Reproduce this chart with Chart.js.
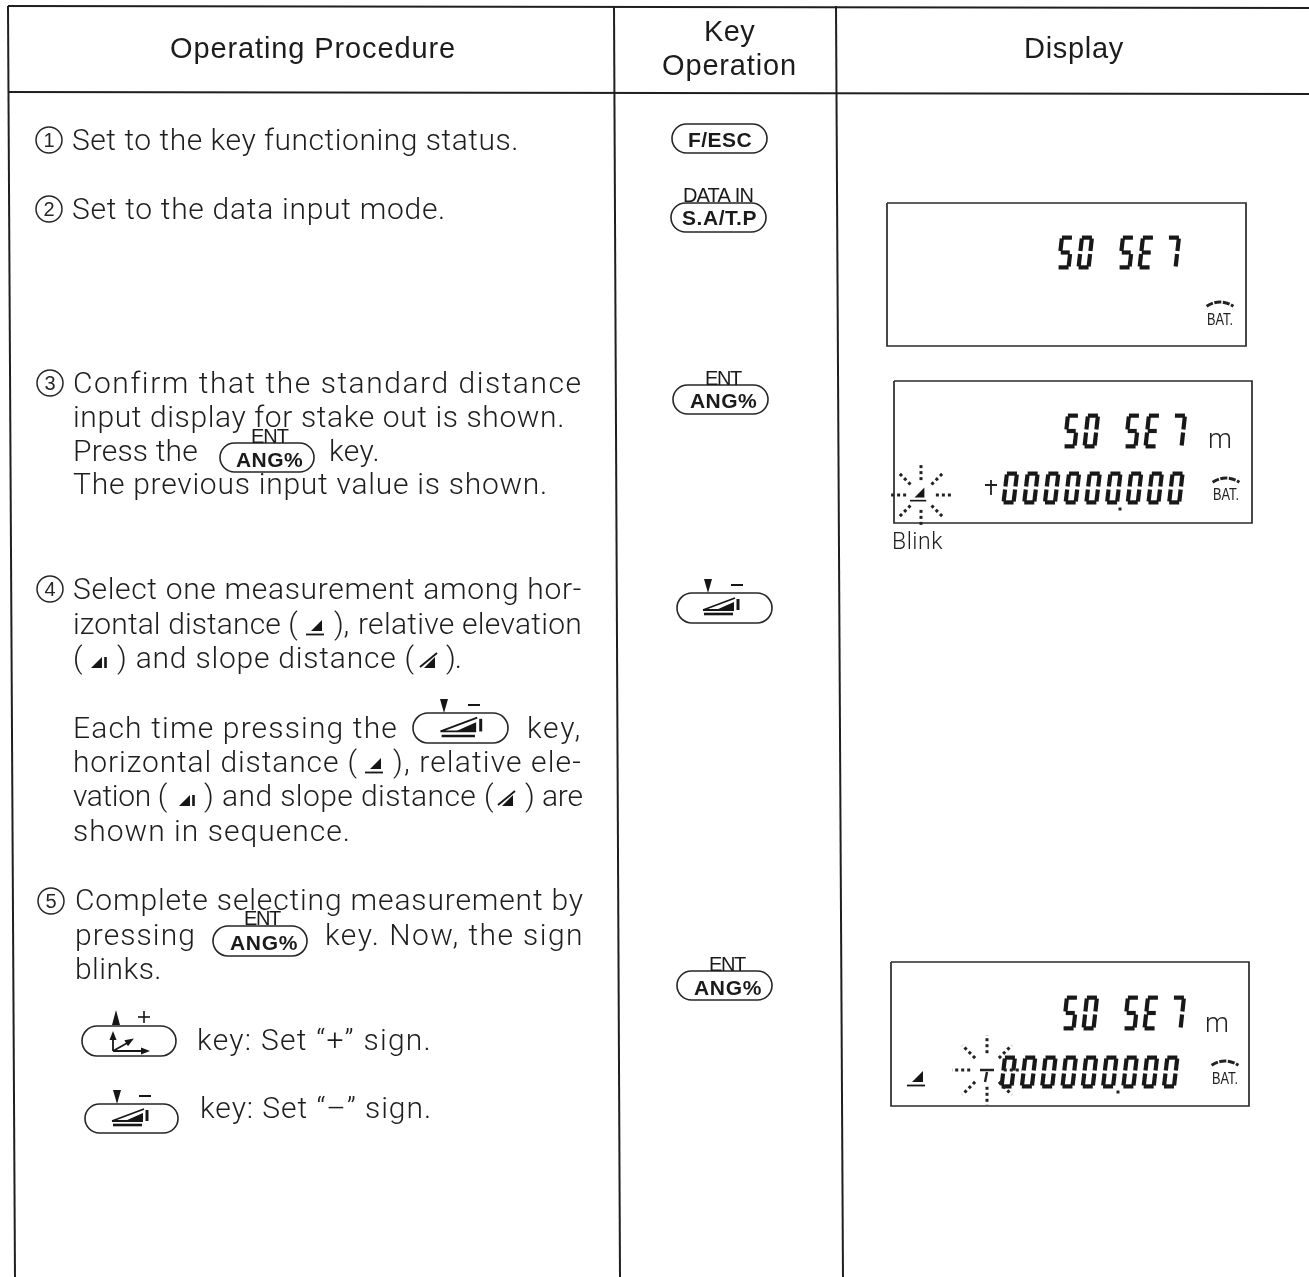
<!DOCTYPE html>
<html><head><meta charset="utf-8">
<style>html,body{margin:0;padding:0;background:#fff;overflow:hidden}#w{position:relative;width:1309px;height:1277px}</style>
<script src="https://cdn.jsdelivr.net/npm/chart.js@4"></script>
</head><body><div id="w"><canvas id="c" width="1309" height="1277"></canvas></div>
<script>
// Table rules: [x0,y0,x1,y1]
const tableRules = [[8,6,1309,8],[8,92,1309,94],[8,6,15,1277],[614,6,620,1277],[836,6,843,1277]];
const displayBoxes = [[887,203,1246,346],[894,381,1252,523],[891,962,1249,1106]];
// Body text: [text,left,right,baseline]
const bodyText = [
 ["Set to the key functioning status.",72,519,150],
 ["Set to the data input mode.",72,446,219],
 ["Confirm that the standard distance",73,582,393],
 ["input display for stake out is shown.",73,565,427],
 ["Press the",73,198,461],
 ["key.",329,380,461],
 ["The previous input value is shown.",73,548,494],
 ["Select one measurement among hor-",73,582,599],
 ["izontal distance (",73,298,634],
 ["),",334,349,634],
 ["relative elevation",358,582,634],
 ["(",73,81,668],
 [") and slope distance (",117,415,668],
 [").",446,461,668],
 ["Each time pressing the",73,398,738],
 ["key,",527,582,738],
 ["horizontal distance (",73,358,772],
 ["), relative ele-",393,582,772],
 ["vation (",73,167,806],
 [") and slope distance (",204,494,806],
 [") are",525,583,806],
 ["shown in sequence.",73,351,841],
 ["Complete selecting measurement by",75,584,910],
 ["pressing",75,196,945],
 ["key. Now, the sign",325,584,945],
 ["blinks.",75,162,979],
 ["key: Set “+” sign.",197,432,1050],
 ["key: Set “–” sign.",200,432,1118],
 ["Blink",892,943,549]
];
const headerText = [["Operating Procedure",170,456,58],["Key",704,755,41],["Operation",662,797,75],["Display",1024,1124,58]];
// Step numbers: [digit,cx,cy]
const stepNumbers = [["1",49,140],["2",49,209],["3",50,383],["4",50,589],["5",51,901]];
// Key ovals: [x0,y0,x1,y1]
const keyOvals = [[672,124,767,153],[671,203,766,232],[673,385,768,414],[220,443,314,472],[677,593,772,623],[413,713,508,743],[213,926,307,956],[677,971,772,1000],[82,1026,176,1056],[85,1104,178,1133]];
// Key labels: [text,left,right,baseline,bold]
const keyLabels = [
 ["F/ESC",688,752,147,1],["DATA IN",683,753,202,0],["S.A/T.P",682,757,225,1],
 ["ENT",705,741,385,0],["ANG%",690,757,408,1],
 ["ENT",251,288,443,0],["ANG%",236,303,467,1],
 ["ENT",244,280,925,0],["ANG%",230,298,950,1],
 ["ENT",709,745,971,0],["ANG%",694,762,995,1]
];
// Seven segment rows: [chars,x,top,bottom,offsets]
const wordOffsets = [0,20,61,81,107];
const zeroOffsetsA = [0,20.7,41.4,62.1,82.8,103.5,124.2,144.9,165.6];
const zeroOffsetsB = [0,20.3,40.6,60.9,81.2,101.5,121.8,142.1,162.4];
const digitRows = [
 ["505E7",1057,237,268,wordOffsets],["505E7",1063,415,447,wordOffsets],["505E7",1062,997,1029,wordOffsets],
 ["000000000",1002,473,503,zeroOffsetsA],["000000000",1000,1057,1087,zeroOffsetsB]
];
const unitText = [["m",1208,1228,448],["m",1205,1227,1032]];
const batLabels = [[1220,325,303],[1226,500,479],[1225,1084,1062]];
const decimalDots = [[1120,509],[1118,1092]];
const plusSigns = [[991,485]];
const bursts = [[921,495,31],[987,1070,35]];
const signDash = [[987,1070]];
// Measurement icons: [kind,cx,cy,size]
const measureIcons = [
 ["h",316,626,1],["v",96,663,1],["s",429,663,1],
 ["h",375,764,1],["v",184,801,1],["s",507,801,1],
 ["h",919,493,0.9],["h",917,1077,1]
];
const rampKeys = [[720,607,1],[460,728,1.15],[129,1118,1]];
const keyMarks = [[708,737,585],[444,474,705],[117,145,1096]];
const axisKey = [[113,1051]];
const plusMark = [[116,144,1017]];
const ink = "#262626";

const f = (w,s,fam)=>`${w} ${s}px "${fam||"Liberation Sans"}"`;
const sevenSeg = {"0":"abcdef","5":"afgcd","E":"afged","7":"abc"};

const drawPlugin = {id:"manual",
 afterDatasetsDraw(ch){
 const c = ch.ctx, X = ch.scales.x, Y = ch.scales.y;
 const px = v=>X.getPixelForValue(v), py = v=>Y.getPixelForValue(v);
 const fit = (t,l,r,b,font,col)=>{
  c.font = font; c.fillStyle = col||ink; c.letterSpacing="0px"; c.textAlign="left"; c.textBaseline="alphabetic";
  const m = c.measureText(t).width, sp = (px(r)-px(l)-m)/Math.max(1,t.length);
  c.letterSpacing = sp.toFixed(3)+"px"; c.fillText(t,px(l),py(b)); c.letterSpacing="0px";
 };
 bodyText.forEach(r=>fit(r[0],r[1],r[2],r[3],r[0]=="Blink"?f(300,23,"Roboto"):f(300,30,"Roboto"),"#1e1e1e"));
 headerText.forEach(r=>fit(r[0],r[1],r[2],r[3],f(400,29),"#1c1c1c"));
 stepNumbers.forEach(([d,x,y])=>{
  c.beginPath();c.arc(px(x),py(y),13,0,Math.PI*2);c.lineWidth=1.5;c.strokeStyle=ink;c.stroke();
  c.font=f(400,20);c.fillStyle=ink;c.textAlign="center";c.textBaseline="middle";c.fillText(d,px(x),py(y)+1);
  c.textAlign="left";c.textBaseline="alphabetic";
 });
 keyOvals.forEach(o=>{c.beginPath();c.roundRect(px(o[0]),py(o[1]),o[2]-o[0],o[3]-o[1],(o[3]-o[1])/2);c.lineWidth=1.6;c.strokeStyle=ink;c.stroke();});
 keyLabels.forEach(k=>fit(k[0],k[1],k[2],k[3],k[4]?f(700,21):f(400,20),"#1a1a1a"));
 digitRows.forEach(([s,x0,yt,yb,off])=>{
  const H=yb-yt,w=10,sl=3.5;
  [...s].forEach((ch_,i)=>{
   const segs=sevenSeg[ch_];
   const x=px(x0)+off[i]+1.5, tp=py(yt);
   const P=(u,v)=>[x+u*w+sl*(1-v),tp+v*H];
   const S={a:[[0,0.02],[1,0.02]],b:[[1,0.05],[1,0.45]],c:[[1,0.55],[1,0.95]],d:[[0,0.98],[1,0.98]],e:[[0,0.55],[0,0.95]],f:[[0,0.05],[0,0.45]],g:[[0.05,0.5],[0.95,0.5]]};
   c.lineWidth=4.2;c.lineCap="butt";c.strokeStyle="#181818";
   [...segs].forEach(k=>{const a=P(...S[k][0]),b=P(...S[k][1]);c.beginPath();c.moveTo(a[0],a[1]);c.lineTo(b[0],b[1]);c.stroke();});
  });
 });
 unitText.forEach(u=>fit(u[0],u[1],u[2],u[3],f(300,27,"Roboto"),"#222"));
 batLabels.forEach(([cx,b,ay])=>{
  c.save();c.translate(px(cx),py(b));c.scale(0.8,1);c.font=f(400,16);c.fillStyle="#222";c.textAlign="center";c.fillText("BAT.",0,0);c.restore();
  c.beginPath();c.arc(px(cx),py(ay)+22,23,-Math.PI/2-0.62,-Math.PI/2+0.62);c.lineWidth=3;c.setLineDash([7,1.5]);c.strokeStyle="#222";c.stroke();c.setLineDash([]);
 });
 decimalDots.forEach(d=>{c.fillStyle="#222";c.fillRect(px(d[0])-1.5,py(d[1])-1.5,3,3);});
 plusSigns.forEach(p=>{c.strokeStyle="#222";c.lineWidth=1.8;c.beginPath();c.moveTo(px(p[0])-6,py(p[1]));c.lineTo(px(p[0])+6,py(p[1]));c.moveTo(px(p[0]),py(p[1])-5);c.lineTo(px(p[0]),py(p[1])+10);c.stroke();});
 signDash.forEach(p=>{c.strokeStyle="#222";c.lineWidth=2.4;c.beginPath();c.moveTo(px(p[0])-7,py(p[1]));c.lineTo(px(p[0])+7,py(p[1]));c.moveTo(px(p[0]),py(p[1])+2);c.lineTo(px(p[0])-2,py(p[1])+12);c.stroke();});
 bursts.forEach(([cx,cy,R])=>{
  c.setLineDash([3,3]);c.lineWidth=3;c.strokeStyle="#222";
  for(let i=0;i<8;i++){const a=i*Math.PI/4;c.beginPath();c.moveTo(px(cx)+Math.cos(a)*(R*0.48),py(cy)+Math.sin(a)*(R*0.48));c.lineTo(px(cx)+Math.cos(a)*R,py(cy)+Math.sin(a)*R);c.stroke();}
  c.setLineDash([]);
 });
 const tri=(x,y,z,kind)=>{
  c.fillStyle="#161616";c.strokeStyle="#161616";c.lineWidth=1.8*z;
  c.beginPath();c.moveTo(x-5*z,y+5*z);c.lineTo(x+6*z,y-6*z);c.lineTo(x+6*z,y+5*z);c.closePath();c.fill();
  c.beginPath();
  if(kind=="h"){c.moveTo(x-10*z,y+8.5*z);c.lineTo(x+8*z,y+8.5*z);}
  if(kind=="v"){c.lineWidth=2.6*z;c.moveTo(x+9.5*z,y-6*z);c.lineTo(x+9.5*z,y+5*z);}
  if(kind=="s"){c.moveTo(x-9*z,y+4*z);c.lineTo(x+8*z,y-10*z);}
  c.stroke();
 };
 measureIcons.forEach(i=>tri(px(i[1]),py(i[2]),i[3],i[0]));
 rampKeys.forEach(([x,y,z])=>{
  x=px(x);y=py(y);c.fillStyle="#161616";c.strokeStyle="#161616";
  c.beginPath();c.moveTo(x-4*z,y+3*z);c.lineTo(x+14*z,y-5*z);c.lineTo(x+14*z,y+3*z);c.closePath();c.fill();
  c.lineWidth=1.8;c.beginPath();c.moveTo(x-17*z,y+3*z);c.lineTo(x+15*z,y-9*z);c.moveTo(x-17*z,y+3*z);c.lineTo(x+14*z,y+3*z);c.stroke();
  c.lineWidth=2.6;c.beginPath();c.moveTo(x-16*z,y+7*z);c.lineTo(x+13*z,y+7*z);c.stroke();
  c.lineWidth=3;c.beginPath();c.moveTo(x+18*z,y-8*z);c.lineTo(x+18*z,y+3*z);c.stroke();
 });
 keyMarks.forEach(([a,b,y])=>{
  c.fillStyle="#161616";c.beginPath();c.moveTo(px(a)-4,py(y)-6);c.lineTo(px(a)+4,py(y)-6);c.lineTo(px(a),py(y)+8);c.closePath();c.fill();
  c.fillRect(px(b)-6,py(y)-1,12,2);
 });
 axisKey.forEach(([x,y])=>{
  x=px(x);y=py(y);c.strokeStyle="#161616";c.fillStyle="#161616";c.lineWidth=1.8;
  c.beginPath();c.moveTo(x,y);c.lineTo(x,y-15);c.moveTo(x,y);c.lineTo(x+32,y);c.moveTo(x,y);c.lineTo(x+16,y-9);c.stroke();
  [[x,y-19,-Math.PI/2],[x+36,y,0],[x+20,y-12,-0.55]].forEach(([a,b,t])=>{c.save();c.translate(a,b);c.rotate(t);c.beginPath();c.moveTo(1,0);c.lineTo(-8,-3.5);c.lineTo(-8,3.5);c.closePath();c.fill();c.restore();});
 });
 plusMark.forEach(([a,b,y])=>{
  c.fillStyle="#161616";c.beginPath();c.moveTo(px(a),py(y)-7);c.lineTo(px(a)+4,py(y)+8);c.lineTo(px(a)-4,py(y)+8);c.closePath();c.fill();
  c.fillRect(px(b)-6,py(y)-0.8,12,1.6);c.fillRect(px(b)-0.8,py(y)-6,1.6,12);
 });
}};

const lineDs = (r,w,col)=>({data:[{x:r[0],y:r[1]},{x:r[2],y:r[3]}],showLine:true,borderColor:col,borderWidth:w,pointRadius:0,fill:false,tension:0});
const boxDs = b=>({data:[{x:b[0],y:b[1]},{x:b[2],y:b[1]},{x:b[2],y:b[3]},{x:b[0],y:b[3]},{x:b[0],y:b[1]}],showLine:true,borderColor:"#2a2a2a",borderWidth:1.7,pointRadius:0,fill:false,tension:0});

new Chart(document.getElementById("c"),{
 type:"scatter",
 data:{datasets:[...tableRules.map(r=>lineDs(r,2,"#1f1f1f")),...displayBoxes.map(boxDs)]},
 options:{responsive:false,animation:false,devicePixelRatio:1,layout:{padding:0},
  plugins:{legend:{display:false},title:{display:false},tooltip:{enabled:false}},
  scales:{x:{type:"linear",min:0,max:1309,display:false},y:{type:"linear",min:0,max:1277,reverse:true,display:false}}},
 plugins:[drawPlugin]
});
</script></body></html>
